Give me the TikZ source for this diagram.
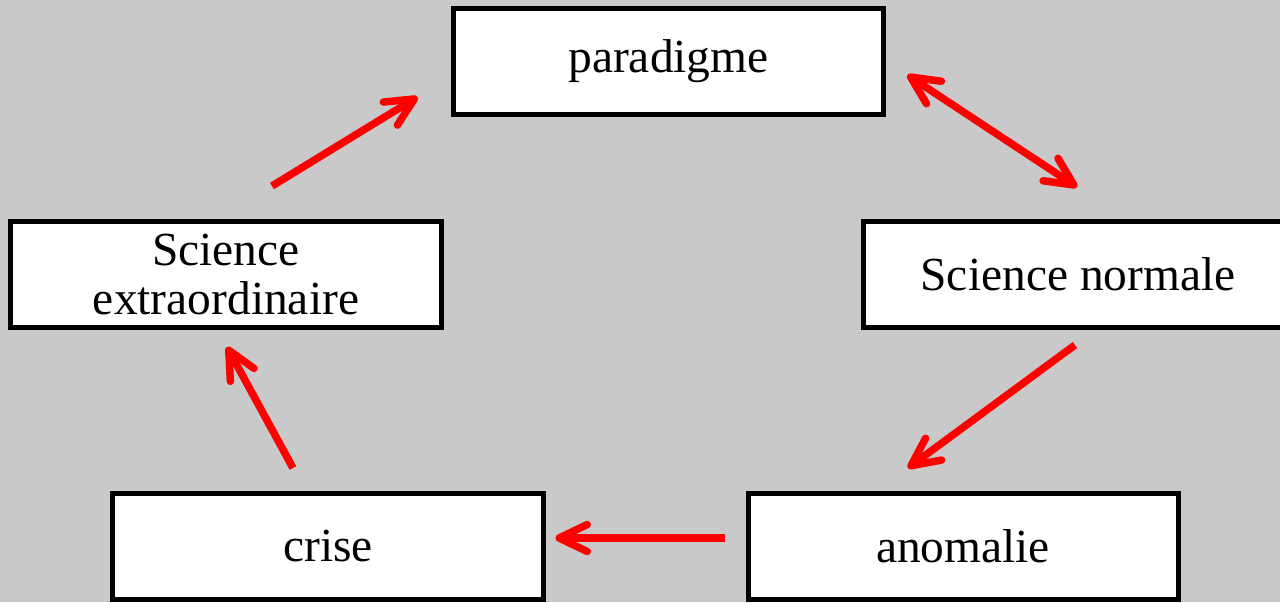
\documentclass[tikz,border=0pt]{standalone}
\usepackage{fontspec}
\setmainfont{Liberation Serif}
\usetikzlibrary{arrows.meta}
\definecolor{fond}{RGB}{201,201,201}
\definecolor{rouge}{RGB}{255,0,0}
\tikzset{
  etape/.style={draw=black, line width=1mm, fill=white, inner sep=0pt,
    minimum width=86mm, minimum height=21.2mm, align=center,
    font=\fontsize{27}{28}\selectfont},
  fleche/.style={draw=rouge, line width=1.5mm,
    -{Straight Barb[length=5.6mm, width=5.4mm, round]}},
  fleches/.style={draw=rouge, line width=1.5mm,
    {Straight Barb[length=5.6mm, width=5.4mm, round]}-{Straight Barb[length=5.6mm, width=5.4mm, round]}}
}

\begin{document}
\begin{tikzpicture}[x=0.2mm, y=-0.2mm]
\useasboundingbox (0,0) rectangle (1280,602);
\fill[fond] (0,0) rectangle (1280,602);
\node[etape] (para) at (668.5,61) {paradigme};
\node[etape] (normale) at (1078,274) {Science normale};
\node[etape] (anomalie) at (963,546.5) {anomalie};
\node[etape] (crise) at (328,546.5) {crise};
\node[etape] (extra) at (226,274.5) {Science\\extraordinaire};
\draw[fleches] ([shift={(21.5,14)}]para.east) -- ([shift={(-1,-31.5)}]normale.north);
\draw[fleche] ([shift={(-3,15.5)}]normale.south) -- ([shift={(-55,-23)}]anomalie.north);
\draw[fleche] ([shift={(-20.5,-8.5)}]anomalie.west) -- ([shift={(10,-8.5)}]crise.east);
\draw[fleche] ([shift={(-35,-23)}]crise.north) -- ([shift={(1,17)}]extra.south);
\draw[fleche] ([shift={(46,-33)}]extra.north) -- ([shift={(-33.5,36)}]para.west);
\end{tikzpicture}
\end{document}
